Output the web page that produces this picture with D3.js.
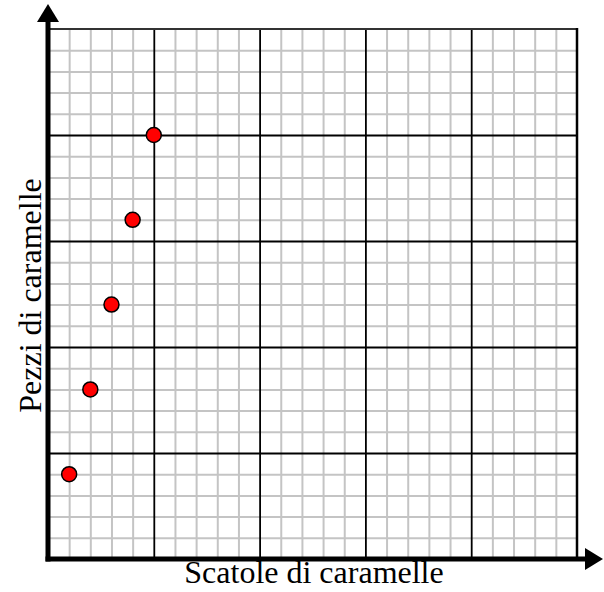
<!DOCTYPE html>
<html>
<head>
<meta charset="utf-8">
<script src="https://cdn.jsdelivr.net/npm/d3@7"></script>
<style>
  html, body { margin: 0; padding: 0; background: #fff; }
  svg { display: block; }
</style>
</head>
<body>
<script>
// Boxes of candy vs. pieces of candy, measured in grid squares
const boxes = [1, 2, 3, 4, 5];
const pieces = [4, 8, 12, 16, 20];
const xLabel = "Scatole di caramelle";
const yLabel = "Pezzi di caramelle";
const gridMax = 25;
const majorStep = 5;

const W = 604, H = 592;
const gLeft = 48, gRight = 577, gTop = 29, gBottom = 559;

const svg = d3.select("body").append("svg")
  .attr("width", W).attr("height", H);

const x = d3.scaleLinear().domain([0, gridMax]).range([gLeft, gRight]);
const y = d3.scaleLinear().domain([0, gridMax]).range([gBottom, gTop]);

const all = d3.range(1, gridMax + 1);
const minor = all.filter(v => v % majorStep !== 0);
const major = all.filter(v => v % majorStep === 0 && v < gridMax);

function gridAxis(g, axis) {
  g.call(axis);
  g.select(".domain").remove();
}

// minor grid
svg.append("g").attr("transform", `translate(0,${gBottom})`)
  .call(g => gridAxis(g, d3.axisBottom(x).tickValues(minor).tickSize(-(gBottom - gTop)).tickFormat("")))
  .selectAll("line").attr("stroke", "#c4c4c4").attr("stroke-width", 2);
svg.append("g").attr("transform", `translate(${gLeft},0)`)
  .call(g => gridAxis(g, d3.axisLeft(y).tickValues(minor).tickSize(-(gRight - gLeft)).tickFormat("")))
  .selectAll("line").attr("stroke", "#c4c4c4").attr("stroke-width", 2);

// major grid
svg.append("g").attr("transform", `translate(0,${gBottom})`)
  .call(g => gridAxis(g, d3.axisBottom(x).tickValues(major).tickSize(-(gBottom - gTop)).tickFormat("")))
  .selectAll("line").attr("stroke", "#000").attr("stroke-width", 1.8);
svg.append("g").attr("transform", `translate(${gLeft},0)`)
  .call(g => gridAxis(g, d3.axisLeft(y).tickValues(major).tickSize(-(gRight - gLeft)).tickFormat("")))
  .selectAll("line").attr("stroke", "#000").attr("stroke-width", 1.8);

// outer border (top and right)
svg.append("line")
  .attr("x1", x(0)).attr("x2", x(gridMax)).attr("y1", y(gridMax)).attr("y2", y(gridMax))
  .attr("stroke", "#333").attr("stroke-width", 2);
svg.append("line")
  .attr("x1", x(gridMax)).attr("x2", x(gridMax)).attr("y1", y(gridMax) - 1).attr("y2", y(0))
  .attr("stroke", "#000").attr("stroke-width", 2.5);

// main axes with arrowheads
svg.append("line")
  .attr("x1", x(0)).attr("x2", x(0)).attr("y1", y(0) + 2.5).attr("y2", 20)
  .attr("stroke", "#000").attr("stroke-width", 5);
svg.append("path")
  .attr("d", `M${x(0)},4 L${x(0) - 11},22 L${x(0) + 11},22 Z`).attr("fill", "#000");
svg.append("line")
  .attr("x1", x(0) - 2.5).attr("x2", 587).attr("y1", y(0)).attr("y2", y(0))
  .attr("stroke", "#000").attr("stroke-width", 5);
svg.append("path")
  .attr("d", `M603,${y(0)} L585,${y(0) - 11} L585,${y(0) + 11} Z`).attr("fill", "#000");

// data points
svg.append("g").selectAll("circle")
  .data(boxes.map((b, i) => [b, pieces[i]]))
  .join("circle")
  .attr("cx", d => x(d[0])).attr("cy", d => y(d[1]))
  .attr("r", 7.5)
  .attr("fill", "#ff0000").attr("stroke", "#000").attr("stroke-width", 1.5);

// axis titles
svg.append("text")
  .attr("x", 314).attr("y", 583)
  .attr("text-anchor", "middle")
  .attr("font-family", "'Liberation Serif', 'Times New Roman', serif")
  .attr("font-size", 32)
  .text(xLabel);
svg.append("text")
  .attr("transform", `translate(41,295.5) rotate(-90)`)
  .attr("text-anchor", "middle")
  .attr("font-family", "'Liberation Serif', 'Times New Roman', serif")
  .attr("font-size", 32)
  .text(yLabel);
</script>
</body>
</html>
